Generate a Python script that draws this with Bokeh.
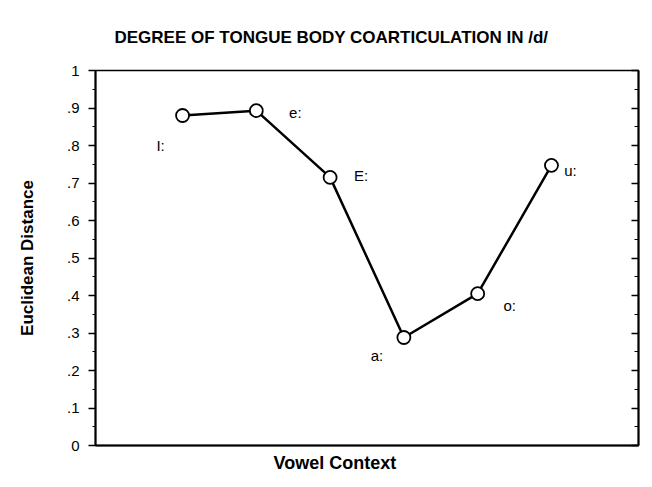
from bokeh.plotting import figure
from bokeh.models import (FixedTicker, LinearAxis, CustomJSTickFormatter, Range1d,
                          ColumnDataSource, Title)
from bokeh.core.properties import value
from bokeh.embed import file_html
from bokeh.resources import INLINE

# ---- data ----
title_text = "DEGREE OF TONGUE BODY COARTICULATION IN /d/"
x_label = "Vowel Context"
y_label = "Euclidean Distance"
vowels = ["I:", "e:", "E:", "a:", "o:", "u:"]
positions = [1, 2, 3, 4, 5, 6]
distance = [0.880, 0.893, 0.715, 0.288, 0.405, 0.747]
y_ticks = [0.0, 0.1, 0.2, 0.3, 0.4, 0.5, 0.6, 0.7, 0.8, 0.9, 1.0]
y_tick_labels = ["0", ".1", ".2", ".3", ".4", ".5", ".6", ".7", ".8", ".9", "1"]
y_minor = [0.05, 0.15, 0.25, 0.35, 0.45, 0.55, 0.65, 0.75, 0.85, 0.95]

# ---- label offsets (screen px, styling) ----
label_dx = [-22, 39, 31, -27, 32, 19]
label_dy = [30, 2, -2, 18, 12, 5]

FONT = "Liberation Sans"

p = figure(frame_width=543, frame_height=375,
           x_range=Range1d(-0.18, 7.18), y_range=Range1d(0, 1),
           output_backend="svg", toolbar_location=None, tools="",
           min_border_left=95, min_border_right=10, min_border_top=70,
           min_border_bottom=40, x_axis_location=None, y_axis_location=None)

p.xgrid.visible = False
p.ygrid.visible = False
p.outline_line_color = "black"
p.outline_line_width = 1.5
p.background_fill_color = "white"
p.border_fill_color = "white"

# trailing blank line lifts the title away from the frame
top_title = Title(text=title_text + "\n ", align="left", offset=19,
                  text_font=FONT, text_font_size="17px", text_font_style="bold",
                  text_color="black")
p.add_layout(top_title, "above")

ticker = FixedTicker(ticks=y_ticks, minor_ticks=y_minor)
fmt = CustomJSTickFormatter(args=dict(tick_vals=y_ticks, tick_texts=y_tick_labels), code="""
const i = tick_vals.findIndex(t => Math.abs(t - tick) < 1e-6);
return i >= 0 ? tick_texts[i] : '';
""")

left = LinearAxis(ticker=ticker, formatter=fmt, axis_label=y_label)
left.axis_line_width = 2
left.major_tick_out = 7
left.major_tick_in = 0
left.minor_tick_out = 3
left.minor_tick_in = 0
left.major_tick_line_width = 1.5
left.major_label_standoff = 9
left.major_label_text_font = FONT
left.major_label_text_font_size = "15px"
left.major_label_text_color = "black"
left.axis_label_text_font = FONT
left.axis_label_text_font_size = "17px"
left.axis_label_text_font_style = "bold"
left.axis_label_text_color = "black"
left.axis_label_standoff = 27
p.add_layout(left, "left")

right = LinearAxis(ticker=ticker, formatter=fmt)
right.axis_line_width = 2
right.major_tick_out = 0
right.major_tick_in = 7
right.minor_tick_out = 0
right.minor_tick_in = 4
right.major_tick_line_width = 1.5
right.major_label_text_font_size = "0px"
right.major_label_standoff = 0
p.add_layout(right, "right")

bottom = LinearAxis(ticker=FixedTicker(ticks=[]))
bottom.axis_line_width = 2
bottom.major_tick_out = 0
bottom.minor_tick_out = 0
bottom.major_label_standoff = 0
p.add_layout(bottom, "below")

bottom_title = Title(text=x_label, align="left", offset=178,
                     text_font=FONT, text_font_size="18px", text_font_style="bold",
                     text_color="black")
p.add_layout(bottom_title, "below")

src = ColumnDataSource(dict(x=positions, y=distance, label=vowels,
                            dx=label_dx, dy=label_dy))

p.line("x", "y", source=src, line_color="black", line_width=2.5)
p.scatter("x", "y", source=src, size=13, fill_color="white",
          line_color="black", line_width=1.8)
p.text("x", "y", text="label", source=src, x_offset="dx", y_offset="dy",
       text_align="center", text_baseline="alphabetic",
       text_font=value(FONT), text_font_size="15px", text_color="black")

open("out.html", "w").write(file_html(p, INLINE))
